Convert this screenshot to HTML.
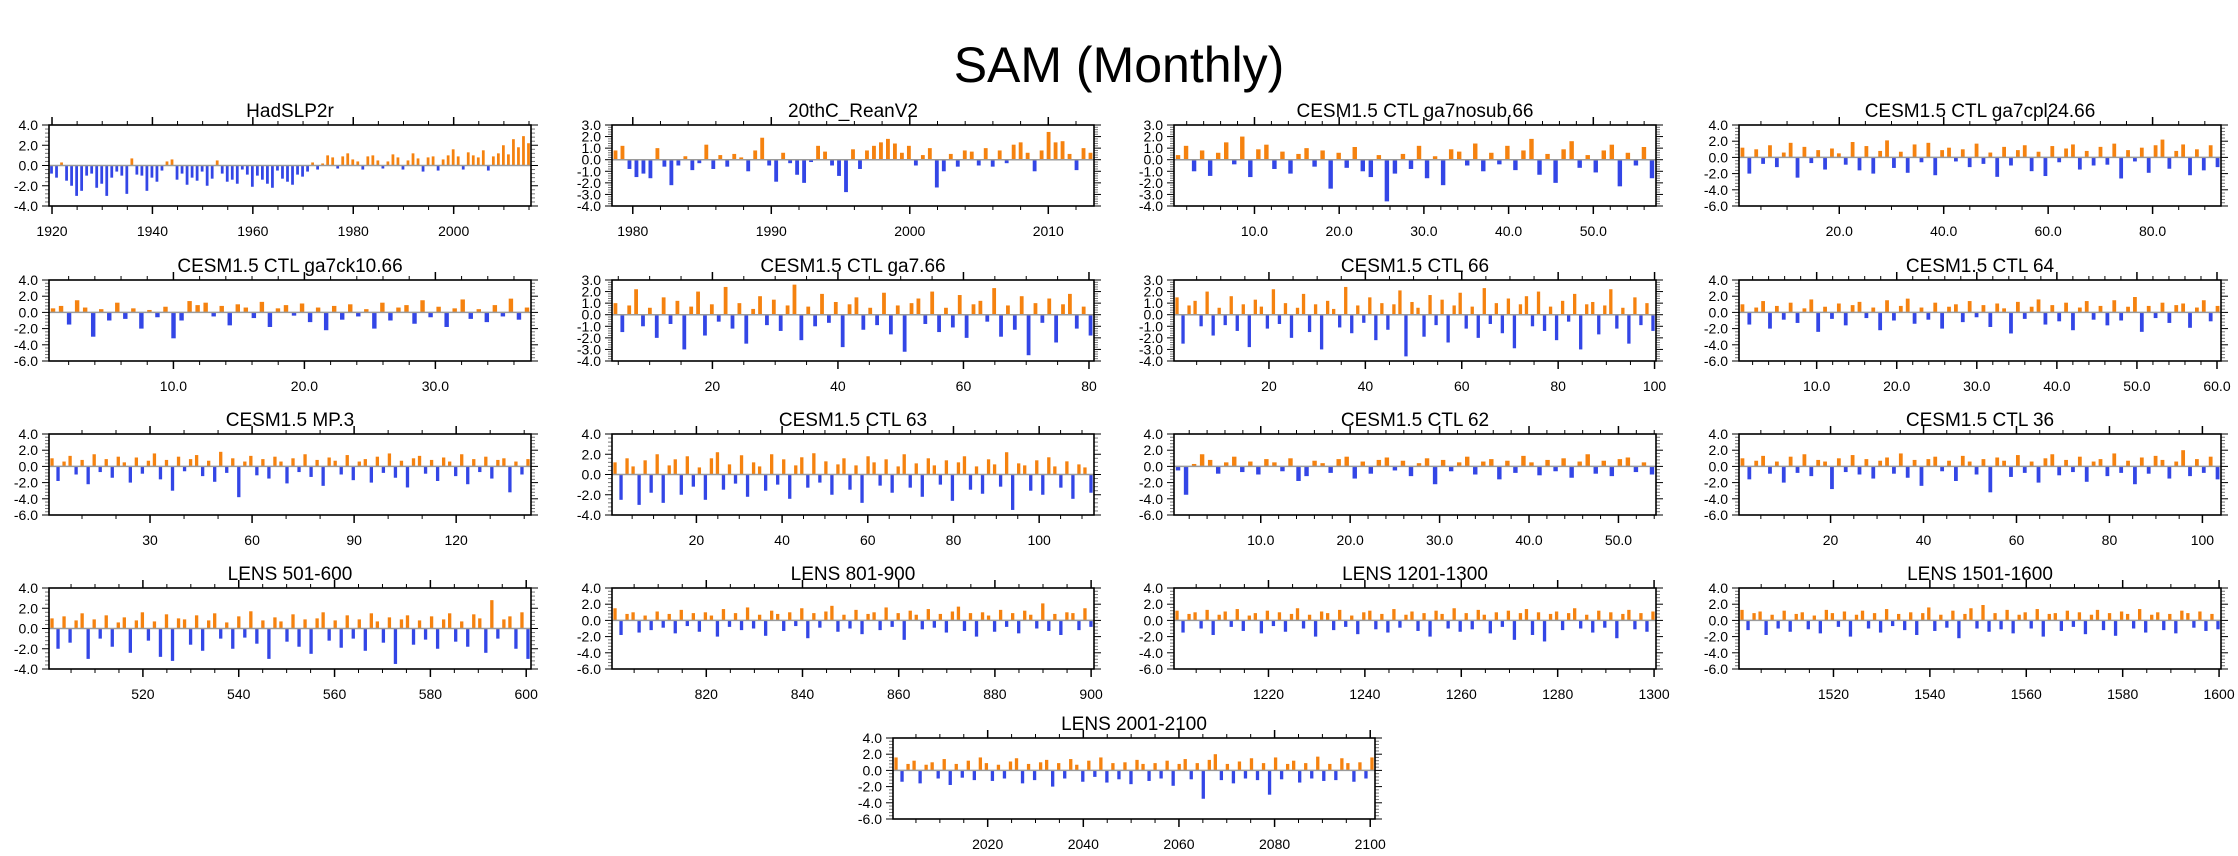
<!DOCTYPE html>
<html><head><meta charset="utf-8"><title>SAM (Monthly)</title>
<style>html,body{margin:0;padding:0;background:#fff;}svg{display:block;font-family:"Liberation Sans",Arial,sans-serif;}</style>
</head><body>
<svg id="chart" width="2238" height="856" viewBox="0 0 2238 856" xmlns="http://www.w3.org/2000/svg">
<text x="1119" y="82" font-size="50" text-anchor="middle" fill="#000">SAM (Monthly)</text>
</svg>
<script>
const hadslp = [-0.8,-1.2,0.3,-1.5,-2.0,-3.0,-2.5,-1.0,-0.8,-2.2,-1.8,-3.0,-1.2,-0.6,-1.0,-2.8,0.7,-0.9,-1.0,-2.5,-1.2,-1.6,-0.5,0.4,0.6,-1.4,-0.8,-1.9,-1.2,-1.5,-0.6,-2.0,-1.3,0.5,-0.8,-1.6,-1.4,-1.8,-0.4,-0.9,
-2.1,-1.0,-1.4,-1.8,-2.2,-0.5,-1.3,-1.6,-1.9,-0.9,-1.1,-0.6,0.3,-0.4,0.2,1.0,0.8,-0.3,0.9,1.2,
0.6,0.4,-0.4,0.9,1.0,0.5,-0.3,0.4,1.1,0.8,-0.4,0.5,1.2,0.7,-0.6,0.8,0.9,-0.5,0.6,1.0,
1.6,0.9,-0.4,1.3,1.0,0.8,1.5,-0.5,0.9,1.2,2.0,1.1,2.6,1.8,2.9,2.2];
const reanv2 = [0.8,1.2,-0.8,-1.5,-1.2,-1.6,1.0,-0.6,-2.2,-0.5,0.3,-0.9,-0.3,1.3,-0.8,0.4,-0.6,0.5,0.2,-1.0,0.8,1.9,-0.5,-1.9,0.6,-0.3,-1.3,-2.0,-0.2,1.2,0.7,-0.5,-1.4,-2.8,0.9,-0.8,0.8,1.2,1.5,1.8,1.4,0.6,1.2,-0.5,0.4,1.0,-2.4,-1.0,0.5,-0.6,0.8,0.7,-0.5,1.0,-0.6,0.8,-0.3,1.3,1.5,0.6,-1.0,0.8,2.4,1.5,1.6,0.5,-0.9,1.0,0.6];
const ga7nosub = [0.4,1.2,-1.0,0.8,-1.4,0.6,1.5,-0.4,2.0,-1.5,0.9,1.3,-0.8,0.7,-1.2,0.5,1.0,-0.6,0.8,-2.5,0.6,-0.7,1.1,-1.0,-1.5,0.4,-3.6,-1.2,0.5,-0.8,1.2,-1.6,0.3,-2.2,0.9,0.7,-0.5,1.4,-1.0,0.6,-0.4,1.2,-0.9,0.8,1.8,-1.3,0.5,-2.0,0.9,1.6,-0.7,0.4,-1.1,0.8,1.3,-2.3,0.6,-0.5,1.1,-1.6];
const ga7cpl24 = [1.2,-2.0,1.0,-0.8,1.5,-1.2,0.6,1.8,-2.5,1.3,-0.7,0.9,-1.5,1.1,0.5,-0.9,1.9,-1.6,1.4,-2.0,0.8,2.1,-1.3,0.7,-1.9,1.6,-0.6,1.8,-2.2,0.9,1.2,-0.5,1.0,-1.2,1.7,-0.8,0.6,-2.4,1.3,-1.0,0.9,1.5,-1.7,0.7,-2.3,1.4,-0.6,1.1,1.6,-1.5,0.8,-1.0,1.3,-0.9,1.7,-2.6,0.9,-0.5,1.2,-1.9,1.5,2.2,-1.4,0.8,1.6,-2.2,1.0,-1.6,1.5,-1.2];
const ga7ck10 = [0.5,0.8,-1.5,1.5,0.6,-3.0,0.4,-1.0,1.2,-0.8,0.5,-2.0,0.3,-0.6,0.7,-3.2,-1.0,1.4,0.9,1.2,-0.5,0.8,-1.6,1.0,0.6,-0.7,1.3,-1.8,0.5,0.9,-0.4,1.1,-1.2,0.6,-2.2,0.8,-0.9,1.0,-0.5,0.4,-2.0,1.2,-1.0,0.6,0.9,-1.4,1.5,-0.6,0.7,-1.8,0.5,1.6,-0.8,0.4,-1.2,0.9,-0.5,1.7,-0.9,0.6];
const ga766 = [1.0,-1.5,0.8,2.2,-1.0,0.6,-2.0,1.5,-0.8,1.2,-3.0,0.7,2.0,-1.8,0.9,-0.6,2.4,-1.2,1.0,-2.5,0.5,1.6,-0.9,1.3,-1.4,0.8,2.6,-2.2,0.7,-1.0,1.8,-0.7,1.1,-2.8,0.9,1.5,-1.3,0.6,-0.9,1.9,-1.7,0.8,-3.2,1.0,1.4,-0.8,2.0,-1.5,0.6,-1.1,1.7,-2.0,0.9,1.2,-0.6,2.3,-1.9,0.8,-1.3,1.6,-3.5,1.0,-0.7,1.4,-2.4,0.9,1.8,-1.2,0.7,-1.8];
const ctl66 = [1.5,-2.5,0.8,1.2,-1.0,2.0,-1.8,0.6,-0.9,1.6,-1.4,0.9,-2.8,1.3,0.7,-1.2,2.2,-0.8,1.0,-2.0,0.6,1.8,-1.5,0.9,-3.0,1.2,0.5,-1.1,2.4,-1.6,0.8,-0.7,1.5,-2.2,1.0,-1.3,0.9,2.1,-3.6,1.1,0.6,-1.9,1.7,-0.9,1.3,-2.4,0.8,1.9,-1.2,0.7,-2.0,2.3,-0.8,1.0,-1.6,1.4,-2.9,0.9,1.6,-1.0,2.0,-1.4,0.7,-2.2,1.2,-0.6,1.8,-3.0,0.9,1.1,-1.7,0.8,2.2,-1.2,0.6,-2.5,1.5,-0.9,1.0,-1.4];
const ctl64 = [1.0,-1.5,0.6,1.4,-2.0,0.8,-0.9,1.2,-1.3,0.5,1.6,-2.4,0.7,-0.8,1.1,-1.6,0.9,1.3,-0.7,0.6,-2.2,1.5,-1.0,0.8,1.7,-1.4,0.6,-0.9,1.2,-2.0,0.7,1.0,-1.2,1.4,-0.6,0.9,-1.8,1.1,0.5,-2.6,1.3,-0.8,0.7,1.6,-1.5,0.9,-1.1,1.2,-2.2,0.6,1.4,-0.9,0.8,-1.6,1.5,-1.0,0.7,1.9,-2.4,0.8,-0.7,1.2,-1.3,0.9,1.1,-1.9,0.6,1.5,-1.1,0.8];
const mp3 = [1.0,-1.8,0.6,1.3,-1.0,0.8,-2.2,1.5,-0.7,0.9,-1.4,1.2,0.5,-2.0,1.1,-0.9,0.7,1.6,-1.6,0.8,-3.0,1.2,-0.6,0.9,1.4,-1.2,0.7,-1.9,1.8,-0.8,1.0,-3.8,0.6,1.3,-1.1,0.9,-1.5,1.2,0.6,-2.1,1.0,-0.7,1.5,-1.3,0.8,-2.4,1.1,0.7,-1.0,1.4,-1.7,0.6,0.9,-2.0,1.2,-0.8,1.6,-1.4,0.7,-2.6,1.0,1.3,-0.9,0.8,-1.8,1.1,0.6,-1.2,1.5,-2.2,0.9,-0.7,1.2,-1.5,0.8,1.0,-3.2,0.6,-1.0,0.9];
const ctl63 = [1.2,-2.5,1.6,0.8,-3.0,1.4,-1.8,2.0,-2.8,0.9,1.5,-2.0,1.8,-1.2,0.7,-2.5,1.6,2.2,-1.5,1.0,-0.9,1.9,-2.2,1.2,0.8,-1.6,2.0,-1.0,1.5,-2.4,0.9,1.7,-1.3,2.1,-0.8,1.3,-2.0,1.0,1.6,-1.5,0.9,-2.8,1.8,1.2,-1.1,1.5,-1.8,0.8,2.0,-1.3,1.1,-2.2,1.6,0.9,-1.0,1.4,-2.6,1.2,1.8,-1.5,0.8,-1.9,1.5,1.0,-1.2,2.2,-3.5,1.1,0.9,-1.6,1.4,-2.0,1.7,0.8,-1.3,1.3,-2.4,1.0,0.7,-1.8];
const ctl62 = [-0.5,-3.5,0.3,1.5,0.8,-0.9,0.5,1.2,-0.7,0.6,-1.0,0.9,0.5,-0.6,1.0,-1.8,-1.2,0.7,0.4,-0.8,0.9,1.2,-1.5,0.6,-0.9,0.8,1.1,-0.5,0.7,-1.2,0.4,1.0,-2.2,0.8,-0.6,0.5,1.2,-1.0,0.6,0.9,-1.6,0.7,-0.8,1.3,0.5,-1.1,0.8,-0.6,1.0,-1.4,0.6,1.5,-0.9,0.7,-1.2,0.9,1.1,-0.7,0.5,-1.0];
const ctl36 = [1.0,-1.6,0.7,1.3,-0.9,0.6,-2.0,1.2,-0.8,1.5,-1.2,0.8,0.6,-2.8,1.0,-0.7,1.4,-1.0,0.9,-1.5,0.7,1.1,-0.9,1.6,-1.4,0.8,-2.4,0.9,1.2,-0.6,0.7,-1.8,1.3,0.6,-1.0,0.9,-3.2,1.1,0.7,-1.3,1.4,-0.8,0.6,-2.0,1.0,1.5,-1.1,0.8,-0.7,1.2,-1.9,0.6,0.9,-1.2,1.6,-0.8,0.7,-2.2,1.1,-0.9,1.3,0.8,-1.5,0.6,2.0,-1.2,0.9,-0.8,1.2,-1.6];
const lens501 = [1.0,-2.0,1.2,-1.4,0.8,1.5,-3.0,0.9,-1.0,1.3,-1.8,0.6,1.1,-2.4,0.8,1.6,-1.2,0.7,-2.8,1.4,-3.2,1.0,0.9,-1.6,1.3,-2.2,0.8,1.5,-1.0,0.6,-2.0,1.2,-0.9,1.7,-1.5,0.8,-3.0,1.1,0.7,-1.3,1.4,-1.8,0.9,-2.5,1.0,1.6,-1.2,0.8,-1.9,1.3,-1.0,0.9,-2.2,1.5,0.7,-1.4,1.1,-3.5,0.9,1.3,-1.6,0.8,-1.1,1.2,-2.0,0.9,1.5,-1.3,0.7,-1.8,1.4,1.0,-2.4,2.8,-1.0,0.9,1.2,-2.0,1.6,-3.0];
const lens801 = [1.5,-1.8,0.8,1.0,-1.5,0.6,-1.2,1.1,-0.9,0.8,-1.6,1.3,-0.7,0.9,-1.4,1.0,0.6,-2.0,1.4,-0.8,0.9,-1.2,1.6,-1.0,0.7,-1.9,1.2,0.8,-1.3,1.0,-0.7,1.5,-2.2,0.9,-0.9,1.1,1.8,-1.4,0.7,-1.0,1.3,-1.7,0.8,1.0,-1.2,1.6,-0.8,0.9,-2.4,1.2,0.7,-1.1,1.4,-0.9,0.8,-1.5,1.1,1.7,-1.3,0.9,-2.0,1.0,0.6,-1.4,1.3,-0.8,0.9,-1.6,1.2,0.7,-1.0,2.1,-1.3,0.8,-1.8,1.0,0.9,-1.2,1.5,-0.8];
const lens1201 = [1.2,-1.5,0.8,1.0,-1.0,1.3,-1.8,0.7,1.1,-0.8,1.4,-1.3,0.6,0.9,-1.6,1.2,-0.7,1.0,-1.4,0.8,1.5,-1.0,0.7,-2.0,1.1,0.9,-1.2,1.3,-0.8,0.6,-1.7,1.0,1.2,-1.1,0.8,-1.5,1.4,-0.9,0.7,1.1,-1.3,0.9,-2.0,1.2,0.8,-1.0,1.5,-1.4,0.9,-1.1,1.3,0.7,-1.6,1.0,-0.8,1.2,-2.4,0.9,1.4,-1.8,1.0,-2.6,0.8,1.1,-1.2,0.9,1.5,-1.0,0.7,-1.5,1.2,-0.9,1.0,-2.2,0.8,1.3,-1.1,0.9,-1.4,1.1];
const lens1501 = [1.3,-1.2,0.9,1.1,-1.8,0.7,-1.0,1.2,-1.4,0.8,1.0,-1.1,0.6,-1.6,1.3,0.9,-0.8,1.1,-2.0,0.7,1.2,-1.0,0.9,-1.5,1.4,-0.7,0.8,-1.2,1.0,-1.8,0.9,1.6,-1.3,0.7,-0.9,1.2,-2.2,0.8,1.5,-1.0,1.9,-1.4,0.9,-1.1,1.3,-1.6,0.7,1.0,-1.0,1.4,-2.0,0.8,0.9,-1.3,1.2,-0.8,1.0,-1.7,0.7,1.3,-1.2,0.9,-1.9,1.1,0.8,-1.0,1.4,-1.5,0.7,1.0,-1.2,0.8,-1.6,1.2,0.9,-0.9,1.1,-1.3,0.8,-1.1];
const lens2001 = [1.6,-1.4,0.8,1.2,-1.6,0.7,1.0,-1.0,1.4,-1.8,0.8,-0.9,1.2,-1.2,1.6,0.9,-1.3,0.7,-1.0,1.1,1.5,-1.6,0.8,-1.2,1.0,1.3,-2.0,0.9,-1.0,1.4,0.7,-1.4,1.2,-0.8,1.6,-1.5,0.9,-1.1,1.0,-1.7,1.3,0.8,-1.3,0.9,-1.0,1.2,-1.9,0.8,1.4,-1.1,0.9,-3.5,1.3,2.0,-1.2,0.8,-1.6,1.1,-1.0,1.5,-1.2,0.9,-3.0,1.6,-1.1,0.8,1.2,-1.5,0.9,-1.0,1.7,-1.3,0.8,-1.2,1.5,0.9,-1.4,1.0,-1.0,1.6];

const panelTitles = ["HadSLP2r","20thC_ReanV2","CESM1.5 CTL ga7nosub.66","CESM1.5 CTL ga7cpl24.66","CESM1.5 CTL ga7ck10.66","CESM1.5 CTL ga7.66","CESM1.5 CTL 66","CESM1.5 CTL 64","CESM1.5 MP.3","CESM1.5 CTL 63","CESM1.5 CTL 62","CESM1.5 CTL 36","LENS 501-600","LENS 801-900","LENS 1201-1300","LENS 1501-1600","LENS 2001-2100"];
const panelSeries = [hadslp,reanv2,ga7nosub,ga7cpl24,ga7ck10,ga766,ctl66,ctl64,mp3,ctl63,ctl62,ctl36,lens501,lens801,lens1201,lens1501,lens2001];
const xDomains = [[1919.4,2015.4],[1978.5,2013.3],[0.5,57.4],[0.8,93.1],[0.5,37.3],[4,80.8],[0.3,100.3],[0.3,60.5],[0.3,142],[0.3,112.8],[0.3,54.2],[0.3,104],[500.4,601],[800.4,900.6],[1200.4,1300.4],[1500.4,1600.4],[2000.2,2101]];
const xMajor = [20,10,10,20,10,20,20,10,30,20,10,20,20,20,20,20,20];
const xMinor = [5,2,2,5,2,5,5,2,10,5,2,5,5,5,5,5,5];
const xDecimals = [0,0,1,1,1,0,0,1,0,0,1,0,0,0,0,0,0];
const yDomains = [[-4,4],[-4,3],[-4,3],[-6,4],[-6,4],[-4,3],[-4,3],[-6,4],[-6,4],[-4,4],[-6,4],[-6,4],[-4,4],[-6,4],[-6,4],[-6,4],[-6,4]];
const yMajor = [2,1,1,2,2,1,1,2,2,2,2,2,2,2,2,2,2];

const svg = document.getElementById('chart');
const NS = 'http://www.w3.org/2000/svg';
const colLeft = [49,612,1174,1739];
const rowTop = [125,280,434,588,738];
const PW = 482, PH = 81;

function mk(tag, attrs, parent) {
  const e = document.createElementNS(NS, tag);
  for (const k in attrs) e.setAttribute(k, attrs[k]);
  parent.appendChild(e);
  return e;
}

panelSeries.forEach((data, p) => {
  const r = Math.floor(p / 4), c = p % 4;
  const L = p === 16 ? 893 : colLeft[c];
  const T = rowTop[r];
  const g = mk('g', {}, svg);
  
  
  const [x0, x1] = xDomains[p];
  const [y0, y1] = yDomains[p];
  const xs = v => L + (v - x0) / (x1 - x0) * PW;
  const ys = v => T + (y1 - v) / (y1 - y0) * PH;

  const title = mk('text', {x: L + PW / 2, y: T - 8, 'font-size': 19, 'text-anchor': 'middle', fill: '#000'}, g);
  
  
  title.textContent = panelTitles[p];

  const n = data.length, step = (x1 - x0) / n;
  const bw = Math.max(1, (PW / n) * 0.55);
  data.forEach((v, i) => {
    const xv = x0 + (i + 0.5) * step;
    const yTop = ys(Math.max(v, 0)), yBot = ys(Math.min(v, 0));
    const b = mk('rect', {x: xs(xv) - bw / 2, y: yTop, width: bw, height: Math.max(0.5, yBot - yTop), fill: v >= 0 ? '#f5820f' : '#3346e6'}, g);
    
    
  });
  const zl = mk('line', {x1: L, x2: L + PW, y1: ys(0), y2: ys(0), stroke: '#9a9a9a', 'stroke-width': 1.5}, g);
  
  

  const ym = yMajor[p], yn = ym / 5;
  for (let k = Math.round(y0 / yn); k <= Math.round(y1 / yn); k++) {
    const v = k * yn, y = ys(v);
    const major = Math.abs(v / ym - Math.round(v / ym)) < 1e-6;
    const len = major ? 7 : 4;
    mk('line', {x1: L - len, x2: L, y1: y, y2: y, stroke: major ? '#000' : '#777', 'stroke-width': 1}, g);
    mk('line', {x1: L + PW, x2: L + PW + len, y1: y, y2: y, stroke: major ? '#000' : '#777', 'stroke-width': 1}, g);
    if (major) {
      const t = mk('text', {x: L - 11, y: y + 5, 'font-size': 14, 'text-anchor': 'end', fill: '#000'}, g);
      
      
      t.textContent = v.toFixed(1);
    }
  }
  const xm = xMajor[p], xn = xMinor[p];
  for (let k = Math.ceil(x0 / xn); k * xn <= x1; k++) {
    const v = k * xn, x = xs(v);
    const major = Math.abs(v / xm - Math.round(v / xm)) < 1e-6;
    const len = major ? 8 : 4;
    mk('line', {x1: x, x2: x, y1: T + PH, y2: T + PH + len, stroke: '#000', 'stroke-width': major ? 1.5 : 1}, g);
    mk('line', {x1: x, x2: x, y1: T - len, y2: T, stroke: '#000', 'stroke-width': major ? 1.5 : 1}, g);
    if (major) {
      const t = mk('text', {x: x, y: T + PH + 30, 'font-size': 14, 'text-anchor': 'middle', fill: '#000'}, g);
      
      
      t.textContent = v.toFixed(xDecimals[p]);
    }
  }
  const fr = mk('rect', {x: L, y: T, width: PW, height: PH, fill: 'none', stroke: '#000', 'stroke-width': 1.6}, g);
  
  
});
</script>
</body></html>
